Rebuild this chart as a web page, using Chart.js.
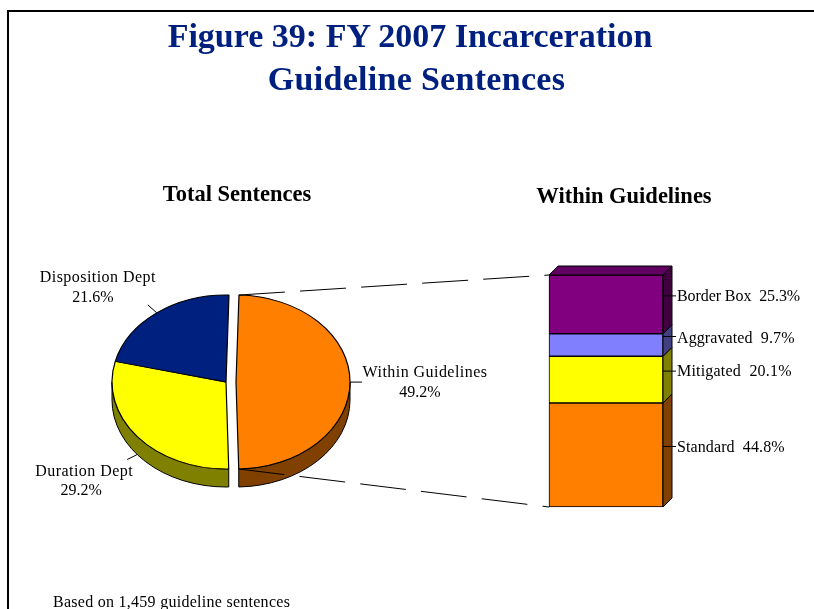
<!DOCTYPE html>
<html>
<head>
<meta charset="utf-8">
<script src="https://cdn.jsdelivr.net/npm/chart.js@4/dist/chart.umd.js"></script>
<style>
html,body{margin:0;padding:0;background:#fff;overflow:hidden}
#stage{position:relative;width:814px;height:609px;overflow:hidden;font-family:"Liberation Serif",serif;color:#000}
#frame{position:absolute;left:7px;top:10px;width:900px;height:800px;border-left:2px solid #000;border-top:2px solid #000}
canvas{position:absolute;left:0;top:0}
.t{position:absolute;white-space:nowrap;text-align:center}
#title{left:0;width:820px;top:14px;font-size:34px;line-height:43px;font-weight:bold;color:#002080}
#title span{position:relative;left:6.5px;letter-spacing:.3px}
#subL{left:137px;width:200px;top:181px;font-size:22.5px;line-height:26px;font-weight:bold}
#subR{left:524px;width:200px;top:183px;font-size:22.5px;line-height:26px;font-weight:bold}
#foot{left:53px;top:593px;font-size:16px;line-height:18px;letter-spacing:.27px;text-align:left}
</style>
</head>
<body>
<div id="stage">
  <div id="frame"></div>
  <canvas id="barCanvas" width="814" height="609"></canvas>
  <canvas id="pieCanvas" width="814" height="609"></canvas>
  <div class="t" id="title">Figure 39: FY 2007 Incarceration<br><span>Guideline Sentences</span></div>
  <div class="t" id="subL">Total Sentences</div>
  <div class="t" id="subR">Within Guidelines</div>
  <div class="t" id="foot">Based on 1,459 guideline sentences</div>
</div>
<script>
// ---- data ----
const pieLabels = ['Within Guidelines', 'Duration Dept', 'Disposition Dept'];
const pieValues = [49.2, 29.2, 21.6];
const pieColors = ['#ff8000', '#ffff00', '#002080'];
const pieSideColors = ['#804000', '#808000', '#001040'];
const pieExplode = [10, 0, 0];

const barCategories = ['Within Guidelines'];
const barLabels = ['Standard', 'Mitigated', 'Aggravated', 'Border Box'];
const barValues = [44.8, 20.1, 9.7, 25.3];
const barColors = ['#ff8000', '#ffff00', '#8080ff', '#800080'];
const barSideColors = ['#804000', '#808000', '#404080', '#400040'];
const barTopColor = '#600060';

// ---- style ----
const FONT = '16px "Liberation Serif", serif';
const PIE_SQUASH = 87 / 114;
const PIE_DEPTH = 18;
const BAR_DEPTH = 9;
const barTracking = ['0.1px', '0.2px', '0.1px', '-0.08px'];
const fmt = v => v.toFixed(1) + '%';

// ---- bar (stacked column with extruded side / top faces) ----
const barFaces = {
  id: 'barFaces',
  afterDatasetsDraw(chart) {
    const ctx = chart.ctx, d = BAR_DEPTH;
    ctx.save();
    ctx.lineWidth = 1;
    ctx.strokeStyle = '#000';
    const poly = (pts, fill) => {
      ctx.beginPath();
      pts.forEach((p, i) => i ? ctx.lineTo(p[0], p[1]) : ctx.moveTo(p[0], p[1]));
      ctx.closePath();
      ctx.fillStyle = fill;
      ctx.fill();
      ctx.stroke();
    };
    barValues.forEach((v, i) => {
      const b = chart.getDatasetMeta(i).data[0];
      const r = b.x + b.width / 2, l = b.x - b.width / 2;
      poly([[r, b.y], [r + d, b.y - d], [r + d, b.base - d], [r, b.base]], barSideColors[i]);
      if (i === barValues.length - 1) {
        poly([[l, b.y], [l + d, b.y - d], [r + d, b.y - d], [r, b.y]], barTopColor);
      }
      // leader and label
      const my = (b.y + b.base) / 2 - 8.5;
      ctx.beginPath();
      ctx.moveTo(r, my);
      ctx.lineTo(r + 13, my);
      ctx.stroke();
      ctx.fillStyle = '#000';
      ctx.font = FONT;
      ctx.letterSpacing = barTracking[i];
      ctx.textAlign = 'left';
      ctx.textBaseline = 'middle';
      ctx.fillText(barLabels[i] + '  ' + fmt(v), r + 14, my + (i === 2 ? 2.5 : 1));
    });
    ctx.restore();
  }
};

const barChart = new Chart(document.getElementById('barCanvas'), {
  type: 'bar',
  data: {
    labels: barCategories,
    datasets: barLabels.map((l, i) => ({
      label: l,
      data: [barValues[i]],
      backgroundColor: barColors[i],
      borderColor: '#000',
      borderWidth: 1,
      borderSkipped: false,
      barPercentage: 1,
      categoryPercentage: 1,
      clip: false
    }))
  },
  options: {
    responsive: false,
    animation: false,
    events: [],
    layout: { padding: { left: 549, right: 151, top: 275, bottom: 102 } },
    plugins: { legend: { display: false }, title: { display: false }, tooltip: { enabled: false } },
    scales: {
      x: { stacked: true, display: false },
      y: { stacked: true, display: false, min: 0, max: barValues.reduce((a, b) => a + b, 0) }
    }
  },
  plugins: [barFaces]
});

// ---- pie (squashed into an ellipse with an extruded rim) ----
const pieLabelBoxes = [
  { leader: [12, 0], text: [75, -9], pctDx: -5, lift: 0 },
  { leader: [-10, 5], text: [-53, 17], pctDx: -3, lift: PIE_DEPTH },
  { leader: [-9, -8], text: [-59, -35], pctDx: -5, lift: 0 }
];

const pie3d = {
  id: 'pie3d',
  afterDatasetUpdate(chart) {
    // pull exploded slices out along their mid-angle, keeping their radius
    chart.getDatasetMeta(0).data.forEach((a, i) => {
      const h = (a.startAngle + a.endAngle) / 2;
      a.x += Math.cos(h) * pieExplode[i];
      a.y += Math.sin(h) * pieExplode[i];
    });
  },
  beforeDatasetDraw(chart) {
    const ctx = chart.ctx;
    const arcs = chart.getDatasetMeta(0).data;
    const cy = arcs[0].y, R = arcs[0].outerRadius;
    // rim
    arcs.forEach((a, i) => {
      const from = Math.max(a.startAngle, 0), to = Math.min(a.endAngle, Math.PI);
      if (to <= from) return;
      const ry = R * PIE_SQUASH;
      ctx.save();
      ctx.beginPath();
      ctx.ellipse(a.x, cy, R, ry, 0, from, to);
      ctx.ellipse(a.x, cy + PIE_DEPTH, R, ry, 0, to, from, true);
      ctx.closePath();
      ctx.fillStyle = pieSideColors[i];
      ctx.fill();
      ctx.lineWidth = 1;
      ctx.strokeStyle = '#000';
      ctx.stroke();
      ctx.restore();
    });
    ctx.save();
    ctx.translate(0, cy);
    ctx.scale(1, PIE_SQUASH);
    ctx.translate(0, -cy);
  },
  afterDatasetDraw(chart) {
    const ctx = chart.ctx;
    ctx.restore();
    const arcs = chart.getDatasetMeta(0).data;
    const R = arcs[0].outerRadius, ry = R * PIE_SQUASH;
    ctx.save();
    ctx.lineWidth = 1;
    ctx.strokeStyle = '#000';
    ctx.fillStyle = '#000';
    ctx.font = FONT;
    ctx.textAlign = 'center';
    ctx.textBaseline = 'middle';

    // connectors from the exploded slice to the column
    const a0 = arcs[0];
    const px = ang => a0.x + Math.cos(ang) * R;
    const py = ang => a0.y + Math.sin(ang) * ry;
    const barEl = barChart.getDatasetMeta(0).data[0];
    const barLeft = barEl.x - barEl.width / 2;
    const yS = barChart.scales.y;
    ctx.setLineDash([46, 15.2]);
    ctx.beginPath();
    ctx.moveTo(px(a0.startAngle), py(a0.startAngle));
    ctx.lineTo(barLeft, yS.getPixelForValue(yS.max));
    ctx.moveTo(px(a0.endAngle), py(a0.endAngle));
    ctx.lineTo(barLeft, yS.getPixelForValue(0));
    ctx.stroke();
    ctx.setLineDash([]);

    // leaders and labels
    arcs.forEach((a, i) => {
      const box = pieLabelBoxes[i];
      const h = (a.startAngle + a.endAngle) / 2;
      const x = a.x + Math.cos(h) * R;
      const y = a.y + Math.sin(h) * ry + box.lift;
      ctx.beginPath();
      ctx.moveTo(x, y);
      ctx.lineTo(x + box.leader[0], y + box.leader[1]);
      ctx.stroke();
      const tx = x + box.text[0], ty = y + box.text[1];
      ctx.letterSpacing = '0.45px';
      ctx.fillText(pieLabels[i], tx, ty);
      ctx.letterSpacing = '0px';
      ctx.fillText(fmt(pieValues[i]), tx + box.pctDx, ty + 19.5);
    });
    ctx.restore();
  }
};

new Chart(document.getElementById('pieCanvas'), {
  type: 'pie',
  data: {
    labels: pieLabels,
    datasets: [{
      data: pieValues,
      backgroundColor: pieColors,
      borderColor: '#000',
      borderWidth: 1.2,
      radius: 114,
      clip: false
    }]
  },
  options: {
    responsive: false,
    animation: false,
    events: [],
    rotation: 1.5,
    layout: { padding: { left: 76, right: 438, top: 232, bottom: 77 } },
    plugins: { legend: { display: false }, title: { display: false }, tooltip: { enabled: false } }
  },
  plugins: [pie3d]
});
</script>
</body>
</html>
